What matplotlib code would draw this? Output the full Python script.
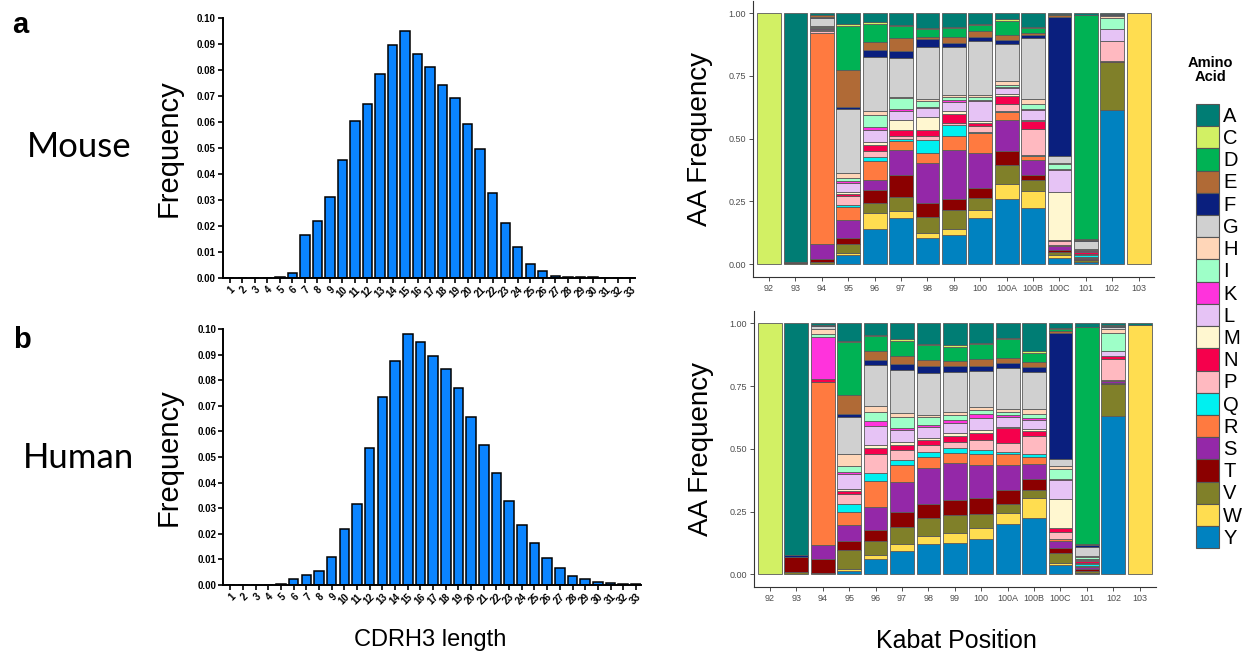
import numpy as np
import matplotlib
matplotlib.use("Agg")
import matplotlib.pyplot as plt
from matplotlib.patches import Patch

plt.rcParams['font.family'] = ['Liberation Sans', 'DejaVu Sans']

# CDRH3 length distributions
lengths = list(range(1, 34))
mouse_freq = [0, 0, 0, 0, 0.0003, 0.0017, 0.0163, 0.0217, 0.0312, 0.0454, 0.0603,
              0.0667, 0.0785, 0.0894, 0.0950, 0.0859, 0.0812, 0.0742, 0.0691, 0.0590,
              0.0496, 0.0324, 0.0209, 0.0119, 0.0051, 0.0026, 0.0006, 0.0002, 0.0001,
              0.0001, 0, 0, 0]
human_freq = [0, 0, 0, 0, 0.0002, 0.0022, 0.0040, 0.0055, 0.0108, 0.0219, 0.0318,
              0.0534, 0.0736, 0.0874, 0.0982, 0.0948, 0.0893, 0.0844, 0.0770, 0.0655,
              0.0547, 0.0439, 0.0329, 0.0233, 0.0163, 0.0104, 0.0065, 0.0036, 0.0022,
              0.0013, 0.0006, 0.0004, 0.0002]

# amino acid composition per Kabat position
kabat = ['92', '93', '94', '95', '96', '97', '98', '99', '100', '100A', '100B',
         '100C', '101', '102', '103']
residues = ['A', 'C', 'D', 'E', 'F', 'G', 'H', 'I', 'K', 'L', 'M', 'N', 'P', 'Q',
            'R', 'S', 'T', 'V', 'W', 'Y']
aa_colors = ['#007d74', '#d2f064', '#00b254', '#b06a36', '#0a1f7e', '#d0d0d0',
             '#ffd6b8', '#9effc8', '#ff33dc', '#e6c3f5', '#fff7d0', '#f5004c',
             '#ffb9c0', '#00f0f0', '#ff7a40', '#9428a8', '#8b0000', '#808029',
             '#ffdd50', '#0082c0']

#             A      C      D      E      F      G      H      I      K      L      M      N      P      Q      R      S      T      V      W      Y
mouse_aa = [[0,     1,     0,     0,     0,     0,     0,     0,     0,     0,     0,     0,     0,     0,     0,     0,     0,     0,     0,     0],
            [.99,   0,     0,     0,     0,     0,     0,     0,     0,     0,     0,     0,     0,     0,     0,     0,     .005,  .005,  0,     0],
            [.006,  0,     .003,  .005,  .006,  .03,   .003,  .006,  .003,  .005,  .002,  .003,  .005,  0,     .84,   .06,   .01,   .01,   0,     0],
            [.042,  .008,  .177,  .146,  .007,  .258,  .017,  .015,  .008,  .034,  .009,  .007,  .037,  .005,  .054,  .073,  .02,   .038,  .008,  .036],
            [.037,  .007,  .069,  .033,  .029,  .216,  .013,  .049,  .011,  .05,   .012,  .024,  .024,  .016,  .073,  .042,  .05,   .04,   .066,  .139],
            [.049,  .004,  .046,  .053,  .026,  .155,  .007,  .044,  .007,  .036,  .04,   .024,  .011,  .009,  .033,  .102,  .086,  .057,  .029,  .183],
            [.06,   .004,  .032,  .008,  .029,  .209,  .009,  .023,  .004,  .036,  .053,  .021,  .016,  .053,  .04,   .162,  .054,  .062,  .02,   .106],
            [.056,  .004,  .033,  .024,  .016,  .193,  .008,  .013,  .008,  .036,  .013,  .033,  .011,  .04,   .058,  .196,  .044,  .075,  .023,  .117],
            [.042,  .004,  .026,  .023,  .017,  .213,  .008,  .011,  .007,  .079,  .007,  .013,  .024,  .005,  .077,  .142,  .04,   .046,  .033,  .183],
            [.023,  .007,  .058,  .021,  .015,  .146,  .016,  .009,  .004,  .023,  .007,  .033,  .03,   .004,  .032,  .121,  .056,  .079,  .057,  .261],
            [.056,  .004,  .02,   .008,  .012,  .242,  .02,   .021,  .004,  .04,   .004,  .03,   .106,  .003,  .017,  .06,   .019,  .044,  .066,  .225],
            [.005,  0,     .004,  .007,  .554,  .029,  .004,  .017,  .005,  .087,  .191,  .004,  .016,  .001,  .005,  .013,  .008,  .015,  .011,  .024],
            [.007,  .001,  .9,    .002,  .005,  .033,  .002,  .003,  .001,  .004,  .002,  .007,  .004,  .009,  .003,  .004,  .006,  .005,  .002,  .008],
            [.003,  0,     0,     .002,  .002,  .004,  .009,  .044,  0,     .046,  0,     .002,  .077,  0,     0,     .002,  .003,  .192,  0,     .616],
            [0,     0,     0,     0,     0,     0,     0,     0,     0,     0,     0,     0,     0,     0,     0,     0,     0,     0,     1,     0]]

human_aa = [[0,     1,     0,     0,     0,     0,     0,     0,     0,     0,     0,     0,     0,     0,     0,     0,     0,     0,     0,     0],
            [.921,  0,     0,     0,     .009,  0,     0,     0,     0,     0,     0,     0,     0,     0,     0,     0,     .06,   .01,   0,     0],
            [.007,  0,     0,     0,     .004,  .013,  .02,   .009,  .169,  0,     0,     .011,  0,     0,     .651,  .056,  .057,  .004,  0,     0],
            [.069,  .004,  .212,  .076,  .011,  .149,  .048,  .024,  .008,  .06,   .008,  .013,  .04,   .029,  .053,  .064,  .036,  .077,  .005,  .015],
            [.046,  .004,  .062,  .033,  .02,   .162,  .024,  .036,  .021,  .076,  .013,  .024,  .076,  .029,  .106,  .09,   .042,  .057,  .017,  .06],
            [.062,  .008,  .062,  .031,  .023,  .173,  .013,  .046,  .009,  .046,  .011,  .02,   .04,   .02,   .069,  .12,   .057,  .069,  .027,  .094],
            [.082,  .004,  .062,  .021,  .029,  .166,  .009,  .031,  .009,  .044,  .009,  .02,   .028,  .019,  .044,  .142,  .057,  .069,  .033,  .121],
            [.086,  .007,  .056,  .02,   .024,  .159,  .013,  .02,   .013,  .04,   .011,  .023,  .027,  .02,   .04,   .146,  .06,   .07,   .042,  .124],
            [.08,   .004,  .06,   .027,  .02,   .142,  .011,  .019,  .013,  .05,   .011,  .027,  .04,   .019,  .041,  .131,  .066,  .057,  .044,  .139],
            [.057,  .007,  .076,  .02,   .02,   .162,  .013,  .012,  .008,  .037,  .007,  .057,  .036,  .009,  .044,  .1,    .056,  .035,  .046,  .199],
            [.109,  .011,  .033,  .023,  .02,   .146,  .02,   .017,  .007,  .036,  .007,  .021,  .073,  .012,  .027,  .057,  .044,  .033,  .082,  .223],
            [.017,  .005,  .008,  .009,  .5,    .031,  .011,  .04,   .003,  .077,  .116,  .013,  .028,  .003,  .007,  .029,  .017,  .04,   .009,  .037],
            [.013,  .003,  .863,  .004,  .008,  .037,  .004,  .005,  .002,  .004,  .003,  .008,  .005,  .009,  .004,  .008,  .005,  .008,  .003,  .004],
            [.005,  0,     .005,  0,     .005,  .007,  .017,  .073,  0,     .02,   0,     .009,  .086,  0,     .002,  .008,  .005,  .127,  0,     .631],
            [.005,  0,     0,     0,     0,     0,     0,     0,     0,     0,     0,     0,     0,     0,     0,     0,     0,     0,     .995,  0]]


fig = plt.figure(figsize=(12.47, 6.54), dpi=100)


def length_hist(rect, freq):
    ax = fig.add_axes(rect)
    ax.bar(lengths, freq, width=0.75, color='#0a84ff', edgecolor='black', linewidth=1.1)
    ax.set_xlim(0.44, 33.4)
    ax.set_ylim(0, 0.1)
    ax.set_yticks(np.arange(0, 0.101, 0.01))
    ax.set_yticklabels(['%.2f' % v for v in np.arange(0, 0.101, 0.01)],
                       fontsize=7, fontweight='bold')
    ax.set_xticks(lengths)
    ax.set_xticklabels([str(v) for v in lengths], rotation=45, ha='right',
                       rotation_mode='anchor', fontsize=7, fontweight='bold')
    for s in ['top', 'right']:
        ax.spines[s].set_visible(False)
    for s in ['left', 'bottom']:
        ax.spines[s].set_linewidth(1.4)
    ax.tick_params(length=3.5, width=1.2, pad=1.5)
    ax.set_ylabel('Frequency', fontsize=21)
    ax.yaxis.set_label_coords(-0.096, 0.5)
    return ax


def composition(rect, table):
    ax = fig.add_axes(rect)
    frac = np.array(table, dtype=float)
    frac = frac / frac.sum(axis=1, keepdims=True)
    x = np.arange(len(kabat))
    bottom = np.zeros(len(kabat))
    # stack from Y at the bottom up to A at the top
    for j in range(len(residues) - 1, -1, -1):
        vals = frac[:, j]
        keep = vals > 0
        ax.bar(x[keep], vals[keep], bottom=bottom[keep], width=0.9,
               color=aa_colors[j], edgecolor='#5a5a5a', linewidth=0.6)
        bottom += vals
    ax.set_xlim(-0.6, len(kabat) - 0.4)
    ax.set_ylim(-0.05, 1.05)
    ax.set_xticks(x)
    ax.set_xticklabels(kabat, fontsize=6.5, color='#4d4d4d')
    ax.set_yticks([0, 0.25, 0.5, 0.75, 1.0])
    ax.set_yticklabels(['0.00', '0.25', '0.50', '0.75', '1.00'], fontsize=6.5,
                       color='#4d4d4d')
    for s in ['top', 'right']:
        ax.spines[s].set_visible(False)
    for s in ['left', 'bottom']:
        ax.spines[s].set_linewidth(0.8)
        ax.spines[s].set_color('#333333')
    ax.tick_params(length=3, width=0.6, color='#333333', pad=2)
    ax.set_ylabel('AA Frequency', fontsize=20)
    ax.yaxis.set_label_coords(-0.1, 0.5)
    return ax


length_hist([0.1786, 0.5754, 0.331, 0.3976], mouse_freq)
length_hist([0.179, 0.1055, 0.335, 0.3915], human_freq)

composition([0.604, 0.577, 0.3218, 0.422], mouse_aa)
composition([0.6047, 0.1026, 0.322, 0.4223], human_aa)

# panel letters and species names
fig.text(0.0096, 0.95, 'a', fontsize=21, fontweight='bold')
fig.text(0.0104, 0.468, 'b', fontsize=21, fontweight='bold')
fig.text(0.0635, 0.76, 'Mouse', fontsize=25, ha='center', family=['Lato', 'DejaVu Sans'])
fig.text(0.063, 0.284, 'Human', fontsize=25, ha='center', family=['Lato', 'DejaVu Sans'])

fig.text(0.345, 0.012, 'CDRH3 length', fontsize=17, ha='center')
fig.text(0.767, 0.009, 'Kabat Position', fontsize=18, ha='center')

# legend
fig.text(0.9705, 0.893, 'Amino\nAcid', fontsize=10.5, fontweight='bold',
         ha='center', va='center', linespacing=1.0)
handles = [Patch(facecolor=c, edgecolor='#555555', linewidth=0.8) for c in aa_colors]
fig.legend(handles, residues, loc='upper left',
           bbox_to_anchor=(1196 / 1247, 1 - 104 / 654), frameon=False,
           fontsize=14.5, handlelength=1.15, handleheight=1.32, labelspacing=0,
           handletextpad=0.2, borderpad=0, borderaxespad=0)

fig.savefig('out.png', dpi=100)
